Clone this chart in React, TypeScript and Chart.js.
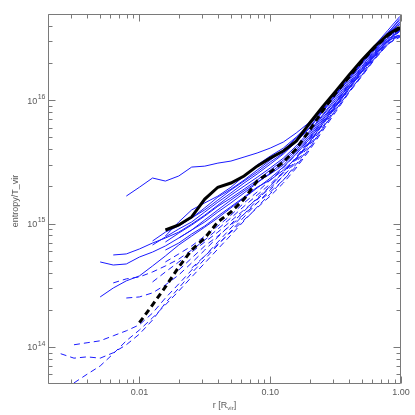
import React, { useEffect, useRef } from "react";
import { Chart, registerables } from "chart.js";

Chart.register(...registerables);

// radius grid in units of R_vir
const radii = [0.0025, 0.00316, 0.00398, 0.00501, 0.00631, 0.00794, 0.01, 0.0126, 0.0158, 0.02, 0.0251, 0.0316, 0.0398, 0.0501, 0.0631, 0.0794, 0.1, 0.126, 0.158, 0.2, 0.251, 0.316, 0.398, 0.501, 0.631, 0.794, 0.98];

// thick black profiles
const blackSolid = [null, null, null, null, null, null, null, null, 8.86e14, 9.73e14, 1.13e15, 1.58e15, 1.97e15, 2.13e15, 2.43e15, 2.92e15, 3.39e15, 3.87e15, 4.66e15, 6.5e15, 8.8e15, 1.18e16, 1.59e16, 2.11e16, 2.74e16, 3.42e16, 3.9e16];
const blackDashed = [null, null, null, null, null, null, 1.57e14, 2.19e14, 3.06e14, 4.45e14, 6.1e14, 7.63e14, 1.03e15, 1.24e15, 1.58e15, 2.21e15, 2.61e15, 3.15e15, 4.02e15, 5.72e15, 8.15e15, 1.14e16, 1.53e16, 2.07e16, 2.69e16, 3.36e16, 3.83e16];

// thin blue solid profiles
const blueSolidTop = [null, null, null, null, null, 1.67e15, 1.97e15, 2.34e15, 2.21e15, 2.43e15, 2.87e15, 2.92e15, 3.09e15, 3.21e15, 3.46e15, 3.73e15, 4.09e15, 4.58e15, 5.42e15, 6.63e15, 8.62e15, 1.16e16, 1.56e16, 2.07e16, 2.69e16, 3.49e16, 4.28e16];
const blueSolid1 = [null, null, null, 4.88e14, 4.61e14, 4.7e14, 5.35e14, 5.87e14, 6.58e14, 7.63e14, 8.86e14, 1.03e15, 1.24e15, 1.47e15, 1.77e15, 2.13e15, 2.57e15, 3.15e15, 3.94e15, 5.21e15, 7.15e15, 9.6e15, 1.32e16, 1.81e16, 2.45e16, 3.18e16, 3.97e16];
const blueSolid2 = [null, null, null, null, 5.56e14, 5.67e14, 6.22e14, 6.95e14, 7.63e14, 8.52e14, 9.9e14, 1.17e15, 1.41e15, 1.7e15, 2.01e15, 2.37e15, 2.82e15, 3.39e15, 4.25e15, 5.62e15, 7.57e15, 1.04e16, 1.42e16, 1.96e16, 2.59e16, 3.36e16, 4.28e16];
const blueSolid3 = [null, null, null, 2.54e14, 3.0e14, 3.43e14, 3.76e14, 4.53e14, 5.46e14, 6.7e14, 7.92e14, 9.35e14, 1.11e15, 1.34e15, 1.61e15, 1.94e15, 2.33e15, 2.87e15, 3.66e15, 4.84e15, 6.63e15, 9.11e15, 1.25e16, 1.72e16, 2.31e16, 3.06e16, 3.69e16];
const blueSolid4 = [null, null, null, null, null, null, null, 6.7e14, 7.78e14, 9.03e14, 1.03e15, 1.24e15, 1.49e15, 1.77e15, 2.13e15, 2.52e15, 3.03e15, 3.66e15, 4.58e15, 5.93e15, 8.0e15, 1.08e16, 1.48e16, 1.99e16, 2.64e16, 3.49e16, 4.6e16];
const blueSolid5 = [null, null, null, null, null, null, null, 7.22e14, 8.52e14, 9.55e14, 1.11e15, 1.34e15, 1.64e15, 1.9e15, 2.25e15, 2.71e15, 3.27e15, 3.94e15, 4.93e15, 6.28e15, 8.3e15, 1.12e16, 1.51e16, 2.03e16, 2.69e16, 3.55e16, 4.44e16];
const blueSolid6 = [null, null, null, null, null, null, null, null, 7.08e14, 8.37e14, 9.73e14, 1.15e15, 1.38e15, 1.61e15, 1.9e15, 2.25e15, 2.71e15, 3.27e15, 4.09e15, 5.42e15, 7.43e15, 1.0e16, 1.37e16, 1.88e16, 2.54e16, 3.3e16, 3.69e16];
const blueSolid7 = [null, null, null, null, null, null, null, null, 7.92e14, 1.03e15, 1.29e15, 1.47e15, 1.67e15, 1.97e15, 2.43e15, 2.98e15, 3.52e15, 4.09e15, 5.02e15, 6.4e15, 8.62e15, 1.16e16, 1.56e16, 2.11e16, 2.79e16, 3.69e16, 4.78e16];
const blueSolid8 = [null, null, null, null, null, null, null, null, null, 7.63e14, 8.86e14, 1.07e15, 1.29e15, 1.55e15, 1.84e15, 2.17e15, 2.52e15, 2.98e15, 3.8e15, 5.02e15, 6.89e15, 9.46e15, 1.3e16, 1.78e16, 2.4e16, 3.18e16, 3.36e16];
const blueSolid9 = [null, null, null, null, null, null, null, null, 6.1e14, 6.95e14, 8.22e14, 9.55e14, 1.15e15, 1.37e15, 1.64e15, 1.97e15, 2.25e15, 2.71e15, 3.39e15, 4.58e15, 6.4e15, 8.94e15, 1.25e16, 1.72e16, 2.36e16, 3.06e16, 3.3e16];
const blueSolid10 = [null, null, null, null, null, null, null, null, null, null, 1.11e15, 1.29e15, 1.55e15, 1.87e15, 2.21e15, 2.61e15, 3.15e15, 3.73e15, 4.66e15, 6.04e15, 8.15e15, 1.1e16, 1.48e16, 1.99e16, 2.69e16, 3.49e16, 4.12e16];

// thin blue dashed profiles
const blueDashed1 = [null, 1.04e14, 1.08e14, 1.12e14, 1.23e14, 1.35e14, 1.51e14, 1.88e14, 2.49e14, 3.24e14, 4.2e14, 5.46e14, 7.08e14, 9.2e14, 1.19e15, 1.55e15, 2.01e15, 2.61e15, 3.46e15, 4.75e15, 6.63e15, 9.29e15, 1.3e16, 1.75e16, 2.36e16, 3.06e16, 3.83e16];
const blueDashed2 = [8.8e13, 8.1e13, 8.3e13, 8.1e13, 8.96e13, 1.04e14, 1.27e14, 1.65e14, 2.27e14, 3.0e14, 3.97e14, 5.15e14, 6.7e14, 8.7e14, 1.13e15, 1.47e15, 1.87e15, 2.43e15, 3.27e15, 4.49e15, 6.4e15, 8.78e15, 1.23e16, 1.69e16, 2.27e16, 2.95e16, 3.69e16];
const blueDashed3 = [null, 5.1e13, 6.0e13, 7.0e13, 8.8e13, 1.12e14, 1.37e14, 1.72e14, 2.19e14, 2.84e14, 3.69e14, 4.78e14, 6.22e14, 8.07e14, 1.05e15, 1.36e15, 1.74e15, 2.25e15, 3.03e15, 4.16e15, 5.93e15, 8.3e15, 1.16e16, 1.59e16, 2.19e16, 2.84e16, 3.42e16];
const blueDashed4 = [null, null, null, null, 3.3e14, 3.56e14, 3.69e14, 4.05e14, 4.53e14, 5.15e14, 6.1e14, 7.35e14, 9.03e14, 1.11e15, 1.38e15, 1.7e15, 2.09e15, 2.61e15, 3.39e15, 4.58e15, 6.4e15, 8.94e15, 1.25e16, 1.72e16, 2.31e16, 3.0e16, 3.42e16];
const blueDashed5 = [null, null, null, null, null, 2.49e14, 2.54e14, 2.74e14, 3.18e14, 3.83e14, 4.8e14, 6.1e14, 7.78e14, 9.9e14, 1.26e15, 1.61e15, 2.01e15, 2.57e15, 3.33e15, 4.49e15, 6.28e15, 8.78e15, 1.23e16, 1.69e16, 2.27e16, 3.0e16, 3.76e16];
const blueDashed6 = [null, null, null, null, null, null, null, 3.36e14, 4.05e14, 4.88e14, 5.87e14, 7.08e14, 8.52e14, 1.05e15, 1.29e15, 1.58e15, 1.94e15, 2.43e15, 3.15e15, 4.33e15, 6.04e15, 8.62e15, 1.21e16, 1.65e16, 2.23e16, 2.95e16, 3.62e16];
const blueDashed7 = [null, null, null, null, null, null, null, null, 4.88e14, 5.67e14, 6.58e14, 7.92e14, 9.55e14, 1.17e15, 1.47e15, 1.8e15, 2.25e15, 2.82e15, 3.66e15, 4.93e15, 6.89e15, 9.64e15, 1.35e16, 1.85e16, 2.5e16, 3.24e16, 4.12e16];
const blueDashed8 = [null, null, null, null, null, null, null, null, null, 4.2e14, 5.25e14, 6.58e14, 7.92e14, 9.73e14, 1.19e15, 1.47e15, 1.8e15, 2.25e15, 2.92e15, 4.09e15, 5.82e15, 8.3e15, 1.16e16, 1.59e16, 2.19e16, 2.9e16, 3.24e16];
const blueDashed9 = [null, null, null, null, null, null, null, null, null, null, 4.36e14, 5.46e14, 6.82e14, 8.52e14, 1.07e15, 1.34e15, 1.67e15, 2.13e15, 2.82e15, 3.94e15, 5.62e15, 8.0e15, 1.14e16, 1.56e16, 2.15e16, 2.84e16, 3.3e16];

const blueSolidSeries = [blueSolidTop, blueSolid1, blueSolid2, blueSolid3, blueSolid4, blueSolid5, blueSolid6, blueSolid7, blueSolid8, blueSolid9, blueSolid10];
const blueDashedSeries = [blueDashed1, blueDashed2, blueDashed3, blueDashed4, blueDashed5, blueDashed6, blueDashed7, blueDashed8, blueDashed9];

// axes
const xRange = [0.002, 1.0];
const yRange = [5e13, 5e16];
const xMajorTicks = [0.01, 0.1, 1.0];
const xMinorTicks = [0.002, 0.003, 0.004, 0.005, 0.006, 0.007, 0.008, 0.009, 0.02, 0.03, 0.04, 0.05, 0.06, 0.07, 0.08, 0.09, 0.2, 0.3, 0.4, 0.5, 0.6, 0.7, 0.8, 0.9];
const yMajorTicks = [1e14, 1e15, 1e16];
const yMajorExponents = ["14", "15", "16"];
const yMinorTicks = [6e13, 7e13, 8e13, 9e13, 2e14, 3e14, 4e14, 5e14, 6e14, 7e14, 8e14, 9e14, 2e15, 3e15, 4e15, 5e15, 6e15, 7e15, 8e15, 9e15, 2e16, 3e16, 4e16];
const xTitleMain = "r [R";
const xTitleSub = "vir";
const yTitle = "entropy/T_vir";

const BLUE = "#1a1aff";
const AXIS = "#7a7a7a";
const TEXT = "#5a5a5a";
const FONT = "'Liberation Sans', Arial, sans-serif";

function toPoints(arr: (number | null)[]) {
  const pts: { x: number; y: number }[] = [];
  arr.forEach((v, i) => {
    if (v !== null) pts.push({ x: radii[i], y: v });
  });
  return pts;
}

const idlAxes = {
  id: "idlAxes",
  afterDraw(chart: any) {
    const { ctx, chartArea: a } = chart;
    const xs = chart.scales.x;
    const ys = chart.scales.y;
    ctx.save();
    ctx.strokeStyle = AXIS;
    ctx.lineWidth = 1;
    const L = Math.round(a.left) + 0.5;
    const R = Math.round(a.right) - 0.5;
    const T = Math.round(a.top) + 0.5;
    const B = Math.round(a.bottom) - 0.5;
    ctx.beginPath();
    ctx.rect(L, T, R - L, B - T);
    ctx.stroke();
    const tick = (vals: number[], len: number) => {
      ctx.beginPath();
      for (const v of vals) {
        const px = Math.round(xs.getPixelForValue(v)) + 0.5;
        ctx.moveTo(px, B);
        ctx.lineTo(px, B - len);
        ctx.moveTo(px, T);
        ctx.lineTo(px, T + len);
      }
      ctx.stroke();
    };
    const ytick = (vals: number[], len: number) => {
      ctx.beginPath();
      for (const v of vals) {
        const py = Math.round(ys.getPixelForValue(v)) + 0.5;
        ctx.moveTo(L, py);
        ctx.lineTo(L + len, py);
        ctx.moveTo(R, py);
        ctx.lineTo(R - len, py);
      }
      ctx.stroke();
    };
    tick(xMajorTicks, 7);
    tick(xMinorTicks, 4);
    ytick(yMajorTicks, 7);
    ytick(yMinorTicks, 4);

    ctx.fillStyle = TEXT;
    // x tick labels
    ctx.font = `9px ${FONT}`;
    ctx.textAlign = "center";
    ctx.textBaseline = "middle";
    for (const v of xMajorTicks) {
      ctx.fillText(v.toFixed(2), xs.getPixelForValue(v), B + 9);
    }
    // y tick labels 10^n
    yMajorTicks.forEach((v, i) => {
      const py = ys.getPixelForValue(v);
      ctx.font = `7px ${FONT}`;
      const ew = ctx.measureText(yMajorExponents[i]).width;
      ctx.textAlign = "right";
      ctx.textBaseline = "middle";
      ctx.fillText(yMajorExponents[i], L - 3, py - 3);
      ctx.font = `9px ${FONT}`;
      ctx.fillText("10", L - 3 - ew - 0.5, py + 1);
    });
    // x title
    ctx.font = `9px ${FONT}`;
    const w1 = ctx.measureText(xTitleMain).width;
    ctx.font = `6px ${FONT}`;
    const w2 = ctx.measureText(xTitleSub).width;
    ctx.font = `9px ${FONT}`;
    const w3 = ctx.measureText("]").width;
    const cx = (a.left + a.right) / 2;
    let sx = cx - (w1 + w2 + w3) / 2;
    const ty = B + 22;
    ctx.textAlign = "left";
    ctx.textBaseline = "middle";
    ctx.fillText(xTitleMain, sx, ty);
    ctx.font = `6px ${FONT}`;
    ctx.fillText(xTitleSub, sx + w1, ty + 2.5);
    ctx.font = `9px ${FONT}`;
    ctx.fillText("]", sx + w1 + w2, ty);
    // y title
    ctx.save();
    ctx.translate(16, (a.top + a.bottom) / 2 + 2);
    ctx.rotate(-Math.PI / 2);
    ctx.textAlign = "center";
    ctx.textBaseline = "middle";
    ctx.font = `9px ${FONT}`;
    ctx.fillText(yTitle, 0, 0);
    ctx.restore();
    ctx.restore();
  },
};

export default function App() {
  const ref = useRef<HTMLCanvasElement | null>(null);
  useEffect(() => {
    if (!ref.current) return;
    const datasets: any[] = [];
    blueSolidSeries.forEach((s) =>
      datasets.push({ data: toPoints(s), borderColor: BLUE, borderWidth: 1, pointRadius: 0, tension: 0, order: 2 })
    );
    blueDashedSeries.forEach((s) =>
      datasets.push({ data: toPoints(s), borderColor: BLUE, borderWidth: 1, borderDash: [6, 4], pointRadius: 0, tension: 0, order: 2 })
    );
    datasets.push({ data: toPoints(blackDashed), borderColor: "#000", borderWidth: 3, borderDash: [6, 4], pointRadius: 0, tension: 0, order: 1 });
    datasets.push({ data: toPoints(blackSolid), borderColor: "#000", borderWidth: 3, pointRadius: 0, tension: 0, order: 0 });

    const chart = new Chart(ref.current, {
      type: "line",
      data: { datasets },
      options: {
        animation: false,
        responsive: false,
        devicePixelRatio: 1,
        layout: { padding: { left: 48, top: 14, right: 14, bottom: 31 } },
        plugins: { legend: { display: false }, tooltip: { enabled: false } },
        scales: {
          x: { type: "logarithmic", min: xRange[0], max: xRange[1], display: false },
          y: { type: "logarithmic", min: yRange[0], max: yRange[1], display: false },
        },
      },
      plugins: [idlAxes],
    } as any);
    return () => chart.destroy();
  }, []);
  return (
    <div style={{ position: "fixed", left: 0, top: 0, width: 415, height: 415, background: "#fff" }}>
      <canvas ref={ref} width={415} height={415} />
    </div>
  );
}
